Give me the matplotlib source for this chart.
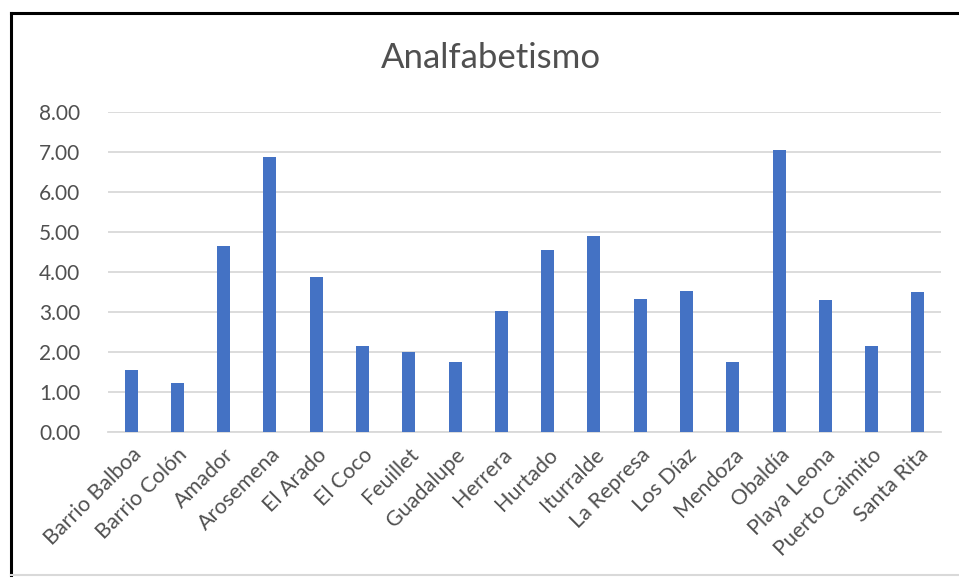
import numpy as np
import matplotlib
matplotlib.use("Agg")
import matplotlib.pyplot as plt
from matplotlib.lines import Line2D

barrios = ["Barrio Balboa", "Barrio Colón", "Amador", "Arosemena", "El Arado",
           "El Coco", "Feuillet", "Guadalupe", "Herrera", "Hurtado",
           "Iturralde", "La Represa", "Los Díaz", "Mendoza", "Obaldía",
           "Playa Leona", "Puerto Caimito", "Santa Rita"]
analfabetismo = [1.56, 1.22, 4.65, 6.88, 3.88,
                 2.14, 2.01, 1.76, 3.03, 4.55,
                 4.90, 3.32, 3.53, 1.74, 7.04,
                 3.30, 2.16, 3.49]
yticks = [0, 1, 2, 3, 4, 5, 6, 7, 8]

plt.rcParams["font.family"] = ["Lato", "DejaVu Sans"]

fig = plt.figure(figsize=(9.59, 5.81), dpi=100)
ax = fig.add_axes([108/959, 1 - 432/581, (941 - 108)/959, (432 - 112)/581])

x = np.arange(len(barrios))
ax.bar(x, analfabetismo, width=0.28, color="#4472C4", zorder=3)

ax.set_xlim(-0.5, len(barrios) - 0.5)
ax.set_ylim(0, 8)
ax.set_yticks(yticks)
ax.set_yticklabels(["%.2f" % v for v in yticks], fontsize=15, color="#505050")
ax.set_xticks(x)
ax.set_xticklabels(barrios, rotation=45, ha="right", rotation_mode="anchor",
                   fontsize=15.5, color="#505050")
ax.tick_params(axis="y", length=0, pad=20)
ax.tick_params(axis="x", length=0, pad=9)
ax.yaxis.grid(True, color="#D9D9D9", linewidth=1.3, zorder=0)
for s in ["top", "right", "left"]:
    ax.spines[s].set_visible(False)
ax.spines["bottom"].set_color("#D9D9D9")
ax.spines["bottom"].set_linewidth(1.3)

fig.text(491/959, 1 - 58/581, "Analfabetismo", ha="center", va="center",
         fontsize=25, color="#505050")

# chart frame
fig.add_artist(Line2D([11/959, 11/959], [1 - 13/581, 1 - 575/581],
                      color="black", linewidth=2.2, transform=fig.transFigure))
fig.add_artist(Line2D([11/959, 1], [1 - 13/581, 1 - 13/581],
                      color="black", linewidth=2.2, transform=fig.transFigure))
fig.add_artist(Line2D([11/959, 1], [1 - 575/581, 1 - 575/581],
                      color="#D9D9D9", linewidth=1.5, transform=fig.transFigure))

fig.savefig("out.png", dpi=100)
